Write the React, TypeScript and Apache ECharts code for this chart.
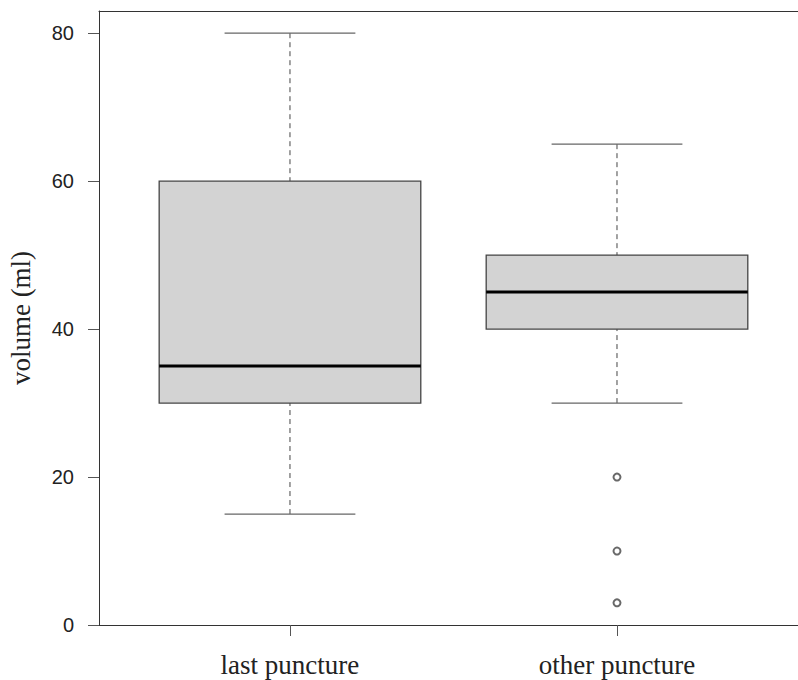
import React, { useEffect, useRef } from "react";
import * as echarts from "echarts";

const categories = ["last puncture", "other puncture"];
const categoryPos = [1, 2];
const whiskerLow = [15, 30];
const q1 = [30, 40];
const median = [35, 45];
const q3 = [60, 50];
const whiskerHigh = [80, 65];
const outlierCategory = [1, 1, 1];
const outlierValues = [20, 10, 3];
const yTicks = [0, 20, 40, 60, 80];

const X_MIN = 0.416;
const X_MAX = 2.5535;
const BOX_WIDTH = 0.8;
const CAP_WIDTH = 0.4;

export default function App() {
  const ref = useRef<HTMLDivElement>(null);
  useEffect(() => {
    if (!ref.current) return;
    const chart = echarts.init(ref.current, undefined, { renderer: "svg" });
    const boxData = categoryPos.map((x, i) => [
      x,
      whiskerLow[i],
      q1[i],
      median[i],
      q3[i],
      whiskerHigh[i],
    ]);
    const outData = outlierValues.map((v, i) => [categoryPos[outlierCategory[i]], v]);
    const stroke = "#444";
    chart.setOption({
      animation: false,
      backgroundColor: "#ffffff",
      grid: {
        left: 99,
        right: 0,
        top: 11,
        bottom: 55,
        show: false,
        containLabel: false,
        outerBoundsMode: "none",
      },
      xAxis: [
        {
          type: "value",
          min: X_MIN,
          max: X_MAX,
          splitLine: { show: false },
          axisLine: { show: true, lineStyle: { color: "#333", width: 1 } },
          axisTick: {
            show: true,
            length: 11,
            customValues: categoryPos,
            lineStyle: { color: "#555" },
          },
          axisLabel: {
            show: true,
            customValues: categoryPos,
            formatter: (v: number) => categories[Math.round(v) - 1] ?? "",
            fontFamily: "Liberation Serif",
            fontSize: 27,
            color: "#222",
            margin: 26,
          },
        },
        {
          type: "value",
          position: "top",
          min: X_MIN,
          max: X_MAX,
          splitLine: { show: false },
          axisLine: { show: true, lineStyle: { color: "#333", width: 1 } },
          axisTick: { show: false },
          axisLabel: { show: false },
        },
      ],
      yAxis: {
        type: "value",
        min: 0,
        max: 83,
        splitLine: { show: false },
        axisLine: { show: true, lineStyle: { color: "#333", width: 1 } },
        axisTick: {
          show: true,
          length: 11,
          customValues: yTicks,
          lineStyle: { color: "#555" },
        },
        axisLabel: {
          show: true,
          customValues: yTicks,
          fontFamily: "Liberation Sans",
          fontSize: 20,
          color: "#222",
          margin: 25,
        },
        name: "volume (ml)",
        nameLocation: "middle",
        nameGap: 65,
        nameTextStyle: {
          fontFamily: "Liberation Serif",
          fontSize: 27,
          color: "#222",
        },
      },
      series: [
        {
          type: "custom",
          data: boxData,
          encode: { x: 0, y: [1, 2, 3, 4, 5] },
          renderItem: (params: any, api: any) => {
            const x = api.value(0);
            const pLo = api.coord([x, api.value(1)]);
            const pQ1 = api.coord([x, api.value(2)]);
            const pMed = api.coord([x, api.value(3)]);
            const pQ3 = api.coord([x, api.value(4)]);
            const pHi = api.coord([x, api.value(5)]);
            const half = api.size([BOX_WIDTH, 0])[0] / 2;
            const capHalf = api.size([CAP_WIDTH, 0])[0] / 2;
            const cx = pMed[0];
            const dash = { stroke, lineWidth: 1, lineDash: [5, 4] };
            return {
              type: "group",
              children: [
                {
                  type: "line",
                  shape: { x1: cx, y1: pHi[1], x2: cx, y2: pQ3[1] },
                  style: dash,
                },
                {
                  type: "line",
                  shape: { x1: cx, y1: pLo[1], x2: cx, y2: pQ1[1] },
                  style: dash,
                },
                {
                  type: "line",
                  shape: { x1: cx - capHalf, y1: pHi[1], x2: cx + capHalf, y2: pHi[1] },
                  style: { stroke: "#666", lineWidth: 1.3 },
                },
                {
                  type: "line",
                  shape: { x1: cx - capHalf, y1: pLo[1], x2: cx + capHalf, y2: pLo[1] },
                  style: { stroke: "#666", lineWidth: 1.3 },
                },
                {
                  type: "rect",
                  shape: { x: cx - half, y: pQ3[1], width: half * 2, height: pQ1[1] - pQ3[1] },
                  style: { fill: "#d3d3d3", stroke: "#444", lineWidth: 1.3 },
                },
                {
                  type: "line",
                  shape: { x1: cx - half, y1: pMed[1], x2: cx + half, y2: pMed[1] },
                  style: { stroke: "#000", lineWidth: 3 },
                },
              ],
            };
          },
        },
        {
          type: "scatter",
          data: outData,
          symbol: "emptyCircle",
          symbolSize: 7,
          itemStyle: { color: "#444", borderColor: "#444", borderWidth: 1.2 },
        },
      ],
    });
    return () => chart.dispose();
  }, []);
  return (
    <div
      ref={ref}
      style={{ position: "absolute", left: 0, top: 0, width: 798, height: 680 }}
    />
  );
}
